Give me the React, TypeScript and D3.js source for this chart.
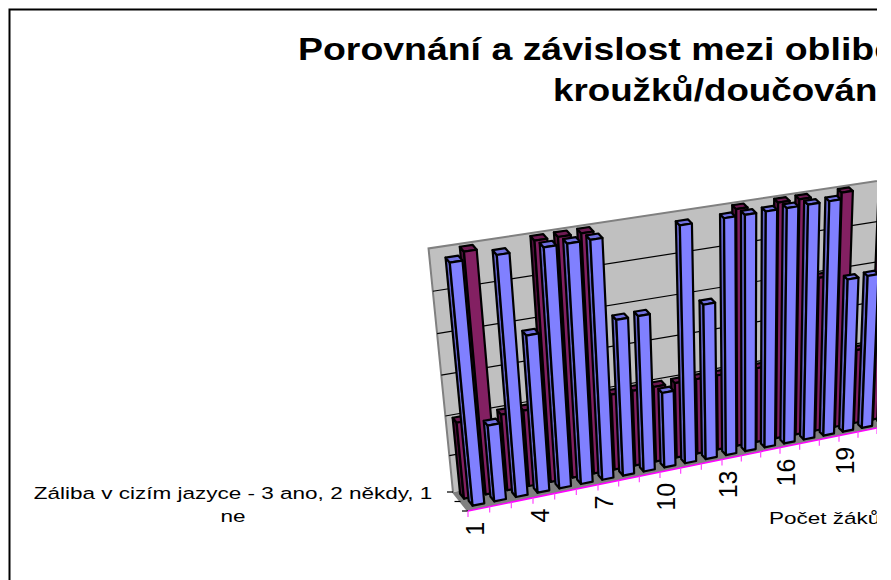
import React from "react";
import * as d3 from "d3";

const categories = d3.range(1, 22);
const labelledCategories = [1, 4, 7, 10, 13, 16, 19];
const blueValues = [3, 1, 3, 2, 3, 3, 3, 2, 2, 1, 3, 2, 3, 3, 3, 3, 3, 3, 2, 2, 3];
const pinkValues = [1, 3, 1, 1, 3, 3, 3, 1, 1, 1, 1, 1, 1, 3, 1, 3, 3, 2, 3, 1, 3];
const gridLevels = [0.5, 1, 1.5, 2, 2.5];
const depthTicks = [0, 0.5, 1];
const titleLines = ["Porovnání a závislost mezi oblibě", "kroužků/doučování"];
const yTitleLines = ["Záliba v cizím jazyce - 3 ano, 2 někdy, 1", "ne"];
const xTitle = "Počet žáků";

const W = 891;
const H = 580;
const CLIP = 877;

// perspective set-up of the 3-D box
const frontX = d3.scaleLinear().domain([0, 3, 6, 9, 12, 15, 18, 21]).range([468, 533, 598, 660, 722, 780, 839, 896]);
const frontY = d3.scaleLinear().domain([468, 877]).range([511, 428]);
const depthDx = d3.scaleLinear().domain([468, 877]).range([-15, -14]);
const depthDy = d3.scaleLinear().domain([468, 877]).range([-19, -13]);
const lean = d3.scaleLinear().domain([475, 843]).range([0.093, -0.032]);
const valuePx = d3.scaleLinear().domain([475, 877]).range([243, 233]);
const valueFrac = d3.scalePow().exponent(1.06).domain([0, 3]).range([0, 1]);

type Pt = [number, number];
function project(u: number, d: number, v: number): Pt {
  const fx = frontX(u);
  const bx = fx + depthDx(fx) * d;
  const by = frontY(fx) + depthDy(fx) * d;
  const up = valuePx(bx) * valueFrac(v);
  return [bx - lean(bx) * up, by - up];
}
const poly = d3.line<Pt>().x((p) => p[0]).y((p) => p[1]);
const closed = (pts: Pt[]) => poly(pts) + "Z";

const HALF = 0.27;
function Bar({ u, v, d0, d1, front, side, top }: { u: number; v: number; d0: number; d1: number; front: string; side: string; top: string }) {
  const l = u - HALF;
  const r = u + HALF;
  return (
    <g stroke="#000" strokeWidth={2.2} strokeLinejoin="round">
      <path d={closed([project(l, d1, 0), project(l, d1, v), project(l, d0, v), project(l, d0, 0)])} fill={side} />
      <path d={closed([project(l, d0, v), project(l, d1, v), project(r, d1, v), project(r, d0, v)])} fill={top} />
      <path d={closed([project(l, d0, 0), project(l, d0, v), project(r, d0, v), project(r, d0, 0)])} fill={front} />
    </g>
  );
}

export default function App() {
  const N = 21;
  const reversed = categories.map((_, i) => i).reverse();
  return (
    <svg width={W} height={H} viewBox={`0 0 ${W} ${H}`} style={{ position: "absolute", left: 0, top: 0, display: "block" }} fontFamily="'Liberation Sans', Arial, sans-serif">
      <defs>
        <clipPath id="page"><rect x={0} y={0} width={CLIP} height={H} /></clipPath>
      </defs>
      <rect width={W} height={H} fill="#fff" />
      <g clipPath="url(#page)">
        <path d="M9.5 580V9.5H900" fill="none" stroke="#000" strokeWidth={2} />
        {/* title */}
        <text transform="translate(298,60) scale(1.208,1)" fontSize={31} fontWeight="bold" fill="#000">{titleLines[0]}</text>
        <text transform="translate(553,101) scale(1.185,1)" fontSize={31} fontWeight="bold" fill="#000">{titleLines[1]}</text>
        {/* floor and wall */}
        <path d={closed([project(0, 0, 0), project(N, 0, 0), project(N, 1, 0), project(0, 1, 0)])} fill="#808080" />
        <path d={closed([project(0, 1, 0), project(N, 1, 0), project(N, 1, 3), project(0, 1, 3)])} fill="#c0c0c0" />
        <path d={poly([project(0, 0, 0), project(0, 1, 0), project(0, 1, 3), project(N, 1, 3)]) ?? ""} fill="none" stroke="#808080" strokeWidth={2} />
        {gridLevels.map((v) => (
          <path key={v} d={poly([project(0, 1, v), project(N, 1, v)]) ?? ""} fill="none" stroke="#000" strokeWidth={1.2} />
        ))}
        {depthTicks.map((d) => {
          const p = project(0, d, 0);
          return <line key={d} x1={p[0] - 6} y1={p[1]} x2={p[0]} y2={p[1]} stroke="#000" strokeWidth={1.2} />;
        })}
        {/* bars */}
        {reversed.map((i) => (
          <Bar key={`p${i}`} u={i + 0.5} v={pinkValues[i]} d0={0.6} d1={0.86} front="#832062" side="#4e103a" top="#6e1a52" />
        ))}
        {reversed.map((i) => (
          <Bar key={`b${i}`} u={i + 0.62} v={blueValues[i]} d0={0.2} d1={0.46} front="#8080ff" side="#6464c8" top="#7070e0" />
        ))}
        {/* category axis */}
        <path d={poly([project(0, 0, 0), project(N, 0, 0)]) ?? ""} fill="none" stroke="#ff00ff" strokeWidth={1.5} />
        {d3.range(0, N + 1).map((u) => {
          const p = project(u, 0, 0);
          return <line key={u} x1={p[0]} y1={p[1]} x2={p[0]} y2={p[1] + 6} stroke="#ff44ff" strokeWidth={1.2} />;
        })}
        {labelledCategories.map((c) => {
          const x = frontX(c - 0.5);
          const y = frontY(x) + 13;
          return (
            <text key={c} transform={`translate(${x - 8},${y}) rotate(-90)`} textAnchor="end" dy="0.36em" fontSize={25} fill="#000" x={0} y={4}>{c}</text>
          );
        })}
        {/* axis titles */}
        {yTitleLines.map((t, i) => (
          <text key={t} transform={`translate(233,${499 + i * 23}) scale(1.325,1)`} textAnchor="middle" fontSize={17} fill="#000">{t}</text>
        ))}
        <text transform="translate(769,524) scale(1.325,1)" fontSize={17} fill="#000">{xTitle}</text>
      </g>
    </svg>
  );
}
